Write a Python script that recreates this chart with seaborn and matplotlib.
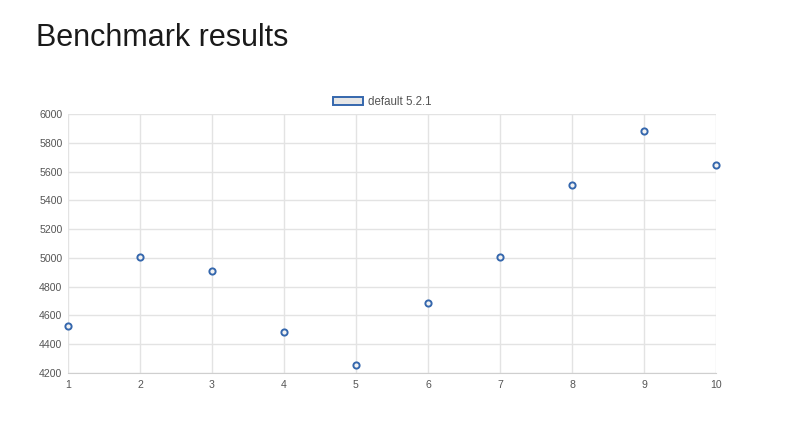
import matplotlib
matplotlib.use("Agg")
import matplotlib.pyplot as plt
import matplotlib.patches as mpatches
import pandas as pd
import seaborn as sns

# data
runs = [1, 2, 3, 4, 5, 6, 7, 8, 9, 10]
scores = [4530, 5008, 4910, 4488, 4255, 4688, 5003, 5510, 5884, 5645]
series_name = "default 5.2.1"
y_ticks = [4200, 4400, 4600, 4800, 5000, 5200, 5400, 5600, 5800, 6000]

df = pd.DataFrame({"run": runs, "score": scores})

sns.set_style("white")
plt.rcParams["font.family"] = ["Liberation Sans", "DejaVu Sans"]

blue = "#3567ad"
fig = plt.figure(figsize=(8, 4.22), dpi=100)
ax = fig.add_axes([68 / 800, 1 - 373 / 422, (716 - 68) / 800, (373 - 114) / 422])

sns.scatterplot(data=df, x="run", y="score", ax=ax, s=20, marker="o",
                facecolor="#f2f2f2", edgecolor=blue, linewidth=1.4,
                zorder=3, clip_on=False)

ax.set_xlim(1, 10)
ax.set_ylim(4200, 6000)
ax.set_xticks(runs)
ax.set_yticks(y_ticks)
ax.grid(True, color="#e3e3e3", linewidth=1)
ax.tick_params(axis="both", width=1, color="#e3e3e3",
               labelsize=7.6, labelcolor="#555555")
ax.tick_params(axis="y", length=4, pad=0)
ax.tick_params(axis="x", length=3, pad=2)
for side in ["top", "right", "left"]:
    ax.spines[side].set_visible(False)
ax.spines["bottom"].set_color("#cfcfcf")
ax.set_xlabel("")
ax.set_ylabel("")

handle = mpatches.Patch(facecolor="#e6e6e6", edgecolor=blue, linewidth=1.4, label=series_name)
fig.legend(handles=[handle], loc="center", bbox_to_anchor=(382 / 800, 1 - 102 / 422),
           frameon=False, fontsize=8.3, handlelength=2.6, handleheight=0.75,
           handletextpad=0.4, labelcolor="#555555")

fig.text(36 / 800, 1 - 38 / 422, "Benchmark results", fontsize=22,
         color="#1a1a1a", va="center", ha="left")

fig.savefig("out.png", dpi=100)
